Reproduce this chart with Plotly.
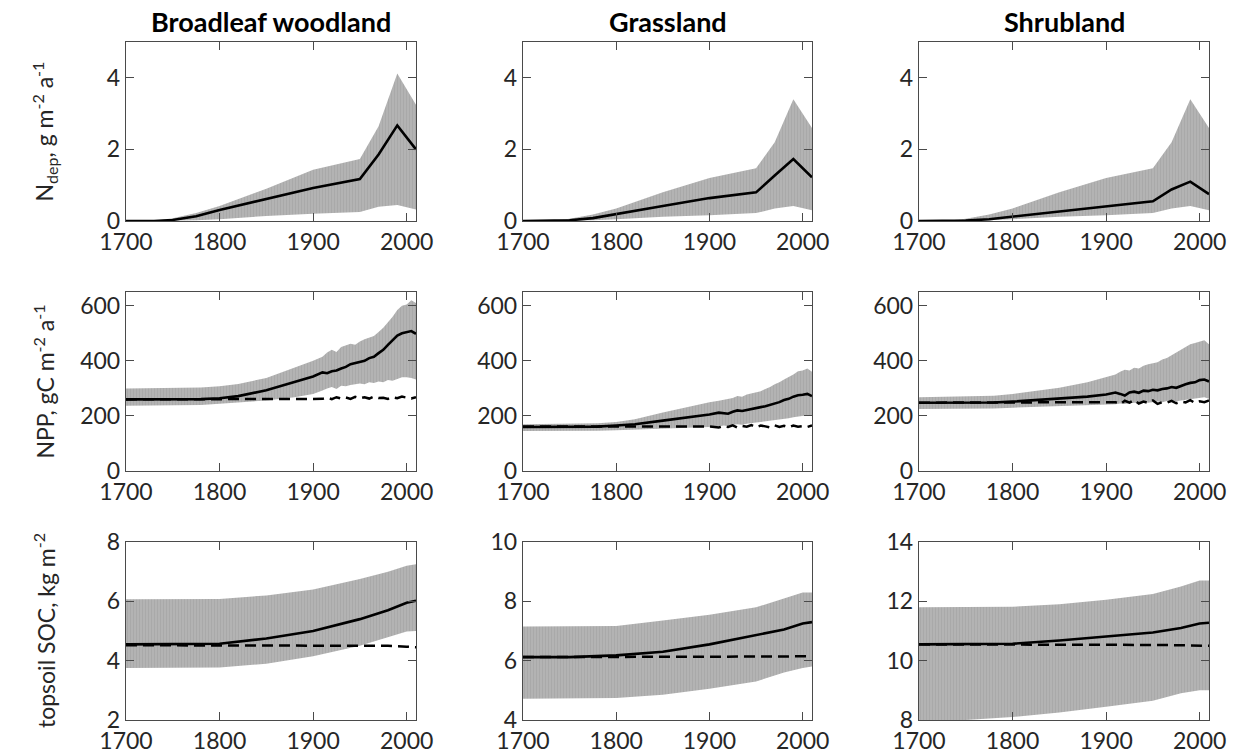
import plotly.graph_objects as go

# ---------------- data ----------------
columns = ["Broadleaf woodland", "Grassland", "Shrubland"]
xticks = [1700, 1800, 1900, 2000]

# N deposition (g m-2 a-1)
ndep_years = [1700, 1730, 1750, 1775, 1800, 1850, 1900, 1950, 1970, 1990, 2010]
bw_ndep_mean = [0, 0, 0.03, 0.13, 0.31, 0.62, 0.92, 1.17, 1.86, 2.67, 2.0]
bw_ndep_hi = [0, 0.01, 0.08, 0.22, 0.42, 0.9, 1.43, 1.73, 2.65, 4.12, 3.25]
bw_ndep_lo = [0, 0, 0, 0.02, 0.05, 0.14, 0.2, 0.25, 0.4, 0.45, 0.32]
gr_ndep_mean = [0, 0, 0.02, 0.08, 0.2, 0.42, 0.64, 0.8, 1.27, 1.73, 1.22]
gr_ndep_hi = [0, 0.01, 0.06, 0.18, 0.35, 0.8, 1.2, 1.47, 2.2, 3.4, 2.6]
gr_ndep_lo = [0, 0, 0, 0.02, 0.05, 0.12, 0.16, 0.22, 0.35, 0.42, 0.3]
sh_ndep_mean = [0, 0, 0.01, 0.05, 0.12, 0.27, 0.42, 0.55, 0.88, 1.1, 0.75]
sh_ndep_hi = [0, 0.01, 0.06, 0.18, 0.35, 0.8, 1.2, 1.47, 2.2, 3.4, 2.6]
sh_ndep_lo = [0, 0, 0, 0.02, 0.05, 0.12, 0.16, 0.22, 0.35, 0.42, 0.3]

# NPP (gC m-2 a-1)
npp_years = [1700, 1750, 1780, 1800, 1820, 1850, 1880, 1900,
             1910, 1915, 1920, 1925, 1930, 1935, 1940, 1945, 1950, 1955, 1960,
             1965, 1970, 1975, 1980, 1985, 1990, 1995, 2000, 2005, 2010]
bw_npp_mean = [260, 260, 261, 264, 272, 293, 323, 343,
               358, 355, 362, 365, 372, 378, 388, 392, 396, 400, 410,
               415, 428, 440, 458, 475, 492, 500, 505, 508, 498]
bw_npp_hi = [300, 301, 303, 308, 316, 338, 375, 400,
             415, 430, 440, 432, 450, 455, 462, 458, 470, 478, 485,
             490, 505, 520, 540, 560, 585, 600, 605, 620, 610]
bw_npp_lo = [237, 238, 240, 244, 248, 256, 268, 280,
             292, 300, 305, 298, 310, 308, 312, 315, 318, 315, 322,
             320, 325, 322, 330, 328, 335, 340, 340, 338, 332]
bw_npp_ctrl = [260, 260, 260, 260, 260, 260, 260, 260,
               262, 266, 261, 268, 263, 267, 262, 269, 264, 268, 263,
               270, 265, 266, 262, 268, 264, 270, 266, 263, 268]
gr_npp_mean = [160, 160, 161, 165, 170, 183, 195, 205,
               212, 210, 208, 215, 220, 218, 222, 226, 228, 232, 235,
               240, 245, 250, 258, 262, 270, 275, 277, 280, 272]
gr_npp_hi = [170, 171, 173, 178, 188, 212, 235, 250,
             255, 258, 262, 265, 272, 270, 278, 282, 288, 290, 298,
             305, 315, 322, 332, 340, 350, 362, 365, 372, 360]
gr_npp_lo = [145, 145, 146, 148, 150, 153, 157, 160,
             162, 165, 163, 168, 170, 168, 172, 175, 176, 178, 180,
             182, 185, 187, 190, 192, 195, 198, 200, 202, 200]
gr_npp_ctrl = [162, 162, 162, 162, 162, 162, 162, 162,
               158, 163, 160, 166, 158, 164, 161, 167, 159, 165, 162,
               158, 166, 160, 164, 159, 165, 161, 163, 160, 165]
sh_npp_mean = [248, 248, 249, 252, 256, 262, 270, 278,
               285, 280, 274, 285, 288, 284, 292, 290, 295, 293, 298,
               300, 305, 302, 310, 315, 320, 322, 330, 332, 325]
sh_npp_hi = [268, 270, 273, 280, 288, 302, 322, 340,
             350, 360, 368, 365, 375, 372, 382, 388, 392, 395, 405,
             410, 420, 430, 440, 450, 460, 465, 470, 475, 460]
sh_npp_lo = [225, 225, 227, 230, 232, 235, 238, 240,
             242, 245, 243, 246, 248, 245, 250, 248, 250, 252, 250,
             254, 255, 253, 256, 258, 260, 262, 265, 268, 262]
sh_npp_ctrl = [248, 248, 248, 248, 248, 248, 248, 248,
               250, 243, 255, 248, 258, 245, 252, 247, 256, 244, 250,
               248, 255, 246, 252, 249, 257, 247, 253, 250, 256]

# topsoil SOC (kg m-2)
soc_years = [1700, 1750, 1800, 1850, 1900, 1950, 1980, 2000, 2010]
bw_soc_mean = [4.55, 4.55, 4.57, 4.75, 5.0, 5.4, 5.7, 5.95, 6.02]
bw_soc_hi = [6.07, 6.07, 6.08, 6.2, 6.4, 6.75, 7.0, 7.2, 7.25]
bw_soc_lo = [3.75, 3.75, 3.77, 3.9, 4.15, 4.5, 4.8, 4.98, 5.0]
bw_soc_ctrl = [4.52, 4.52, 4.52, 4.52, 4.52, 4.5, 4.5, 4.47, 4.45]
gr_soc_mean = [6.12, 6.12, 6.18, 6.3, 6.55, 6.85, 7.05, 7.25, 7.3]
gr_soc_hi = [7.15, 7.15, 7.17, 7.35, 7.55, 7.8, 8.1, 8.3, 8.3]
gr_soc_lo = [4.72, 4.72, 4.74, 4.85, 5.05, 5.3, 5.6, 5.75, 5.8]
gr_soc_ctrl = [6.12, 6.12, 6.12, 6.13, 6.13, 6.14, 6.14, 6.15, 6.15]
sh_soc_mean = [10.55, 10.55, 10.57, 10.68, 10.82, 10.95, 11.1, 11.25, 11.28]
sh_soc_hi = [11.8, 11.8, 11.82, 11.9, 12.05, 12.25, 12.5, 12.7, 12.7]
sh_soc_lo = [8.0, 8.0, 8.1, 8.25, 8.45, 8.65, 8.9, 9.0, 9.0]
sh_soc_ctrl = [10.55, 10.55, 10.55, 10.55, 10.55, 10.53, 10.52, 10.5, 10.5]

row_labels = ["N<sub>dep</sub>, g m<sup>-2</sup> a<sup>-1</sup>",
              "NPP, gC m<sup>-2</sup> a<sup>-1</sup>",
              "topsoil SOC, kg m<sup>-2</sup>"]
y_ranges = [[[0, 5], [0, 5], [0, 5]],
            [[0, 650], [0, 650], [0, 650]],
            [[2, 8], [4, 10], [8, 14]]]
y_ticks = [[[0, 2, 4]] * 3,
           [[0, 200, 400, 600]] * 3,
           [[2, 4, 6, 8], [4, 6, 8, 10], [8, 10, 12, 14]]]

panels = [
    [(ndep_years, bw_ndep_mean, bw_ndep_hi, bw_ndep_lo, None),
     (ndep_years, gr_ndep_mean, gr_ndep_hi, gr_ndep_lo, None),
     (ndep_years, sh_ndep_mean, sh_ndep_hi, sh_ndep_lo, None)],
    [(npp_years, bw_npp_mean, bw_npp_hi, bw_npp_lo, bw_npp_ctrl),
     (npp_years, gr_npp_mean, gr_npp_hi, gr_npp_lo, gr_npp_ctrl),
     (npp_years, sh_npp_mean, sh_npp_hi, sh_npp_lo, sh_npp_ctrl)],
    [(soc_years, bw_soc_mean, bw_soc_hi, bw_soc_lo, bw_soc_ctrl),
     (soc_years, gr_soc_mean, gr_soc_hi, gr_soc_lo, gr_soc_ctrl),
     (soc_years, sh_soc_mean, sh_soc_hi, sh_soc_lo, sh_soc_ctrl)],
]

# ---------------- layout geometry ----------------
OFF = 8  # page body margin
W, H = 1243 - OFF, 756 - OFF
col_px = [(126, 416), (523, 812), (919, 1209)]
row_px = [(42, 221), (292, 471), (542, 720)]

FONT = "Lato, 'Open Sans', sans-serif"
AXIS_COLOR = "#4a4a4a"
TEXT_COLOR = "#262626"
TICK_SIZE = 23

fig = go.Figure()
layout = dict(width=W, height=H, margin=dict(l=0, r=0, t=0, b=0),
              plot_bgcolor="white", paper_bgcolor="white", showlegend=False,
              font=dict(family=FONT, size=TICK_SIZE, color=TEXT_COLOR))
annotations = []


def px_x(p):
    return (p - OFF) / W


def px_y(p):
    return 1 - (p - OFF) / H


for r in range(3):
    for c in range(3):
        idx = r * 3 + c + 1
        xa = "x" if idx == 1 else f"x{idx}"
        ya = "y" if idx == 1 else f"y{idx}"
        xs, mean, hi, lo, ctrl = panels[r][c]
        fig.add_trace(go.Scatter(x=xs, y=lo, mode="lines", line=dict(width=0),
                                 xaxis=xa, yaxis=ya, hoverinfo="skip"))
        fig.add_trace(go.Scatter(x=xs, y=hi, mode="lines", line=dict(width=0),
                                 fill="tonexty", fillcolor="#b0b0b0",
                                 fillpattern=dict(shape="|", fgcolor="#9d9d9d",
                                                  bgcolor="#b3b3b3", size=3,
                                                  solidity=0.3),
                                 xaxis=xa, yaxis=ya, hoverinfo="skip"))
        if ctrl is not None:
            fig.add_trace(go.Scatter(x=xs, y=ctrl, mode="lines",
                                     line=dict(color="black", width=2.5, dash="11px,6px"),
                                     xaxis=xa, yaxis=ya))
        fig.add_trace(go.Scatter(x=xs, y=mean, mode="lines",
                                 line=dict(color="black", width=2.6),
                                 xaxis=xa, yaxis=ya))

        x0, x1 = col_px[c]
        y0, y1 = row_px[r]
        common = dict(showline=True, linecolor=AXIS_COLOR, linewidth=1.4,
                      mirror="allticks", ticks="inside", ticklen=8,
                      tickcolor=AXIS_COLOR, tickwidth=1.4, showgrid=False,
                      zeroline=False, automargin=False,
                      tickfont=dict(family=FONT, size=TICK_SIZE, color=TEXT_COLOR))
        layout["xaxis" if idx == 1 else f"xaxis{idx}"] = dict(
            common, domain=[px_x(x0), px_x(x1)], range=[1700, 2010],
            tickvals=xticks, anchor=ya)
        layout["yaxis" if idx == 1 else f"yaxis{idx}"] = dict(
            common, domain=[px_y(y1), px_y(y0)], range=y_ranges[r][c],
            tickvals=y_ticks[r][c], anchor=xa)

for c, name in enumerate(columns):
    x0, x1 = col_px[c]
    annotations.append(dict(text=f"<b>{name}</b>", x=px_x((x0 + x1) / 2),
                            y=px_y(22), xref="paper", yref="paper",
                            xanchor="center", yanchor="middle", showarrow=False,
                            font=dict(family=FONT, size=27, color="black")))
for r, lab in enumerate(row_labels):
    y0, y1 = row_px[r]
    annotations.append(dict(text=lab, x=px_x(44), y=px_y((y0 + y1) / 2),
                            xref="paper", yref="paper", xanchor="center",
                            yanchor="middle", textangle=-90, showarrow=False,
                            font=dict(family=FONT, size=23, color=TEXT_COLOR)))

layout["annotations"] = annotations
fig.update_layout(**layout)
fig.write_html("out.html")
